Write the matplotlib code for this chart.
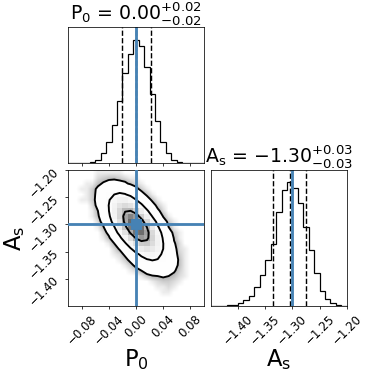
import numpy as np
import matplotlib
matplotlib.use("Agg")
import matplotlib.pyplot as plt
from matplotlib.colors import LinearSegmentedColormap
from matplotlib.ticker import FuncFormatter

# parameters, plot ranges and reference values
labels = ["P$_0$", r"A$_\mathrm{s}$"]
p0_range = [-0.10, 0.10]
as_range = [-1.45, -1.20]
truths = [0.00, -1.30]
truth_color = "#4682b4"

# 16/50/84 % quantiles (dashed lines) and title strings
p0_quant = [-0.0206, 0.0, 0.0221]
as_quant = [-1.3355, -1.3042, -1.2754]
p0_title = "0.00_{-0.02}^{+0.02}"
as_title = "-1.30_{-0.03}^{+0.03}"

p0_ticks = [-0.08, -0.04, 0.00, 0.04, 0.08]
as_ticks = [-1.40, -1.35, -1.30, -1.25, -1.20]

# marginal histograms, 25 bins over each range
p0_counts = [0, 2, 5, 12, 30, 60, 198, 433, 775, 1250, 1825, 2200, 2500,
             2363, 1950, 1400, 850, 425, 200, 60, 30, 12, 5, 2, 0]
as_counts = [0, 2, 5, 12, 25, 60, 112, 200, 375, 625, 925, 1250, 1900,
             2350, 2500, 2388, 2075, 1600, 1138, 668, 300, 132, 68, 30, 10]

# joint histogram: rows = A_s bins (bottom to top), columns = P0 bins
joint_counts = [
    [0, 0, 0, 0, 0, 0, 0, 0, 0, 0, 0, 0, 0, 0, 0, 0, 0, 0, 0, 0, 0, 0, 0, 0, 0],
    [0, 0, 0, 0, 0, 0, 0, 0, 0, 0, 0, 0, 0, 0, 0, 0, 0, 0, 0, 0, 0, 0, 0, 0, 0],
    [0, 0, 0, 0, 0, 0, 0, 0, 0, 0, 0, 0, 0, 0, 0, 0, 0, 1, 1, 0, 0, 0, 0, 0, 0],
    [0, 0, 0, 0, 0, 0, 0, 0, 0, 0, 0, 0, 0, 0, 0, 0, 1, 1, 2, 1, 0, 0, 0, 0, 0],
    [0, 0, 0, 0, 0, 0, 0, 0, 0, 0, 0, 0, 0, 0, 0, 1, 2, 3, 3, 2, 1, 0, 0, 0, 0],
    [0, 0, 0, 0, 0, 0, 0, 0, 0, 0, 0, 0, 0, 1, 3, 5, 6, 7, 6, 4, 2, 1, 0, 0, 0],
    [0, 0, 0, 0, 0, 0, 0, 0, 0, 0, 0, 1, 2, 6, 11, 15, 18, 17, 12, 7, 3, 1, 0, 0, 0],
    [0, 0, 0, 0, 0, 0, 0, 0, 0, 0, 1, 3, 9, 17, 28, 37, 37, 30, 20, 10, 4, 1, 0, 0, 0],
    [0, 0, 0, 0, 0, 0, 0, 0, 0, 1, 3, 9, 22, 41, 61, 70, 63, 46, 26, 12, 4, 1, 0, 0, 0],
    [0, 0, 0, 0, 0, 0, 0, 0, 1, 2, 8, 22, 48, 81, 106, 109, 87, 54, 26, 10, 3, 1, 0, 0, 0],
    [0, 0, 0, 0, 0, 0, 0, 0, 2, 7, 23, 57, 108, 162, 188, 170, 120, 66, 28, 9, 2, 1, 0, 0, 0],
    [0, 0, 0, 0, 0, 0, 0, 1, 6, 20, 56, 122, 205, 271, 277, 222, 138, 67, 25, 7, 2, 0, 0, 0, 0],
    [0, 0, 0, 0, 0, 0, 1, 4, 15, 47, 115, 220, 329, 382, 345, 243, 134, 57, 19, 5, 1, 0, 0, 0, 0],
    [0, 0, 0, 0, 0, 0, 2, 9, 33, 91, 199, 335, 442, 453, 362, 225, 109, 41, 12, 3, 1, 0, 0, 0, 0],
    [0, 0, 0, 0, 0, 1, 5, 19, 61, 150, 287, 429, 499, 451, 318, 175, 74, 25, 6, 1, 0, 0, 0, 0, 0],
    [0, 0, 0, 0, 0, 2, 10, 34, 95, 207, 350, 461, 472, 377, 235, 114, 43, 13, 3, 1, 0, 0, 0, 0, 0],
    [0, 0, 0, 0, 1, 4, 16, 51, 126, 241, 359, 418, 378, 266, 146, 62, 21, 5, 1, 0, 0, 0, 0, 0, 0],
    [0, 0, 0, 0, 1, 6, 23, 64, 139, 235, 310, 318, 254, 158, 76, 29, 8, 2, 0, 0, 0, 0, 0, 0, 0],
    [0, 0, 0, 0, 2, 9, 27, 67, 129, 193, 224, 202, 143, 78, 33, 11, 3, 1, 0, 0, 0, 0, 0, 0, 0],
    [0, 0, 1, 1, 3, 10, 28, 60, 101, 133, 136, 109, 68, 33, 12, 4, 1, 0, 0, 0, 0, 0, 0, 0, 0],
    [0, 0, 0, 1, 3, 9, 23, 44, 66, 77, 70, 49, 27, 11, 4, 1, 0, 0, 0, 0, 0, 0, 0, 0, 0],
    [0, 0, 1, 1, 3, 8, 16, 28, 37, 38, 30, 19, 9, 3, 1, 0, 0, 0, 0, 0, 0, 0, 0, 0, 0],
    [0, 0, 0, 1, 1, 4, 7, 10, 12, 10, 8, 4, 2, 1, 0, 0, 0, 0, 0, 0, 0, 0, 0, 0, 0],
    [0, 0, 0, 0, 0, 2, 3, 4, 4, 3, 2, 1, 1, 0, 0, 0, 0, 0, 0, 0, 0, 0, 0, 0, 0],
    [0, 0, 0, 0, 0, 1, 1, 1, 1, 1, 0, 0, 0, 0, 0, 0, 0, 0, 0, 0, 0, 0, 0, 0, 0],
]

# enclosed-mass levels of the contours (1, 2, 3 sigma in 2d)
levels = [0.393, 0.865, 0.989]

nbins = len(p0_counts)
xe = np.linspace(p0_range[0], p0_range[1], nbins + 1)
ye = np.linspace(as_range[0], as_range[1], nbins + 1)
xc = 0.5 * (xe[1:] + xe[:-1])
yc = 0.5 * (ye[1:] + ye[:-1])
H = np.array(joint_counts, dtype=float)

fmt = FuncFormatter(lambda v, pos: f"{v:.2f}".replace("-", "\u2212"))
tick_size = 12.5

# figure geometry like corner: 2in panels, 0.05 spacing
fig, axes = plt.subplots(2, 2, figsize=(5.5, 5.5))
lb = 1.0 / 5.5
tr = 1.0 - 0.4 / 5.5
fig.subplots_adjust(left=lb, bottom=lb, right=tr, top=tr, wspace=0.05, hspace=0.05)
axes[0, 1].set_axis_off()


def hist_panel(ax, counts, edges, quants, truth, rng, ticks, title, show_labels):
    ax.stairs(counts, edges, color="k", lw=1.3)
    for q in quants:
        ax.axvline(q, ls="dashed", color="k", lw=1.5)
    ax.axvline(truth, color=truth_color, lw=3)
    ax.set_xlim(rng)
    ax.set_ylim(0, 1.1 * max(counts))
    ax.set_yticks([])
    ax.set_xticks(ticks)
    ax.set_title(title, fontsize=20)
    if show_labels:
        ax.xaxis.set_major_formatter(fmt)
        ax.tick_params(labelsize=tick_size)
        for t in ax.get_xticklabels():
            t.set_rotation(45)
    else:
        ax.set_xticklabels([])


hist_panel(axes[0, 0], p0_counts, xe, p0_quant, truths[0], p0_range, p0_ticks,
           labels[0] + " = $" + p0_title + "$", False)
hist_panel(axes[1, 1], as_counts, ye, as_quant, truths[1], as_range, as_ticks,
           labels[1] + " = $" + as_title + "$", True)
axes[1, 1].set_xlabel(labels[1], fontsize=24)
axes[1, 1].xaxis.set_label_coords(0.5, -0.3)

# 2d panel
ax = axes[1, 0]
flat = np.sort(H.ravel())[::-1]
cum = np.cumsum(flat)
cum /= cum[-1]
V = sorted(flat[cum <= lev][-1] for lev in levels)

haze = np.zeros(H.shape + (4,))
haze[..., 3] = 0.5 * (1 - np.exp(-H / 6.0))
ax.imshow(haze, extent=(xe[0], xe[-1], ye[0], ye[-1]), origin="lower",
          aspect="auto", interpolation="bilinear", zorder=0)
ax.contourf(xc, yc, H, [V[0], H.max() * 1.01], colors="white",
            antialiased=False, zorder=1)
density_cmap = LinearSegmentedColormap.from_list("dens", [(0, 0, 0, 1), (1, 1, 1, 0)])
ax.pcolormesh(xe, ye, H.max() - H, cmap=density_cmap,
              vmin=-0.2 * H.max(), vmax=H.max(), zorder=2)
ax.contour(xc, yc, H, V, colors="k", linewidths=2, zorder=3)
ax.axvline(truths[0], color=truth_color, lw=3, zorder=4)
ax.axhline(truths[1], color=truth_color, lw=3, zorder=4)
ax.plot(truths[0], truths[1], "s", color=truth_color, ms=11, zorder=5)

ax.set_xlim(p0_range)
ax.set_ylim(as_range)
ax.set_xticks(p0_ticks)
ax.set_yticks(as_ticks)
ax.xaxis.set_major_formatter(fmt)
ax.yaxis.set_major_formatter(fmt)
ax.tick_params(labelsize=tick_size)
for t in ax.get_xticklabels() + ax.get_yticklabels():
    t.set_rotation(45)
ax.set_xlabel(labels[0], fontsize=24)
ax.set_ylabel(labels[1], fontsize=24)
ax.xaxis.set_label_coords(0.5, -0.3)
ax.yaxis.set_label_coords(-0.3, 0.5)

fig.savefig("out.png", dpi=68)
